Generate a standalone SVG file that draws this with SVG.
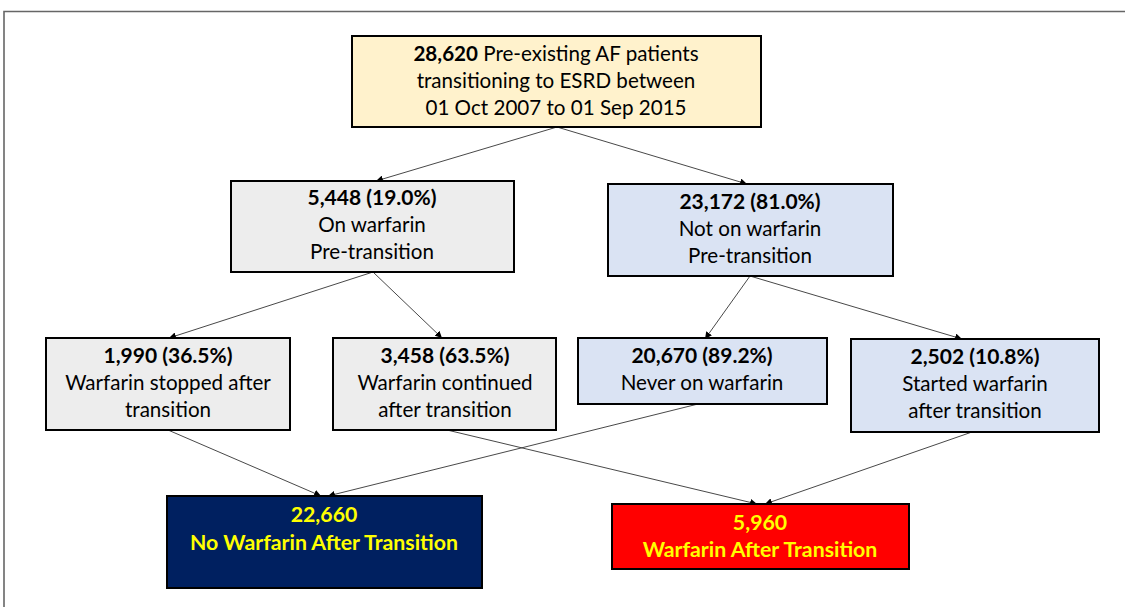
<svg xmlns="http://www.w3.org/2000/svg" width="1125" height="607" viewBox="0 0 1125 607">
<defs>
<marker id="ah" viewBox="0 0 10 10" refX="10" refY="5" markerWidth="7" markerHeight="7" markerUnits="userSpaceOnUse" orient="auto">
<path d="M0,0 L10,5 L0,10 z" fill="#000"/>
</marker>
<style>
.box{stroke:#000;stroke-width:2}
.t{font-family:Lato,"Liberation Sans",sans-serif;font-size:20.6px;fill:#000;text-anchor:middle}
.b{font-weight:bold;font-size:21px}
.y{fill:#FFFF00;font-weight:bold;font-size:21.3px}
.c{stroke:#333;stroke-width:0.9;fill:none;marker-end:url(#ah)}
</style>
</defs>
<rect width="1125" height="607" fill="#fff"/>
<path d="M4,607 L4,11.5 L1125,11.5" fill="none" stroke="#666" stroke-width="1.6"/>

<g id="connectors">
<line class="c" x1="557" y1="127" x2="376" y2="181"/>
<line class="c" x1="557" y1="127" x2="747" y2="184"/>
<line class="c" x1="373" y1="272" x2="169" y2="338"/>
<line class="c" x1="373" y1="272" x2="442" y2="338"/>
<line class="c" x1="750" y1="276" x2="705" y2="339"/>
<line class="c" x1="750" y1="276" x2="962" y2="339"/>
<line class="c" x1="168" y1="430" x2="321" y2="496"/>
<line class="c" x1="698" y1="404" x2="328" y2="496"/>
<line class="c" x1="447" y1="430" x2="757" y2="504"/>
<line class="c" x1="972" y1="432" x2="765" y2="504"/>
</g>

<g id="n-total">
<rect class="box" x="352" y="36" width="409" height="91" fill="#FFF2CC"/>
<text class="t" x="556" y="61"><tspan font-weight="bold">28,620</tspan> Pre-existing AF patients</text>
<text class="t" x="556" y="88">transitioning to ESRD between</text>
<text class="t" x="556" y="115">01 Oct 2007 to 01 Sep 2015</text>
</g>

<g id="n-on">
<rect class="box" x="231" y="181" width="283" height="91" fill="#EDEDED"/>
<text class="t b" x="372" y="205">5,448 (19.0%)</text>
<text class="t" x="372" y="232">On warfarin</text>
<text class="t" x="372" y="259">Pre-transition</text>
</g>

<g id="n-noton">
<rect class="box" x="608" y="184" width="285" height="92" fill="#DAE3F3"/>
<text class="t b" x="750" y="209">23,172 (81.0%)</text>
<text class="t" x="750" y="236">Not on warfarin</text>
<text class="t" x="750" y="263">Pre-transition</text>
</g>

<g id="n-stopped">
<rect class="box" x="46" y="338" width="244" height="92" fill="#EDEDED"/>
<text class="t b" x="168" y="363">1,990 (36.5%)</text>
<text class="t" x="168" y="390">Warfarin stopped after</text>
<text class="t" x="168" y="417">transition</text>
</g>

<g id="n-continued">
<rect class="box" x="333" y="338" width="223" height="92" fill="#EDEDED"/>
<text class="t b" x="445" y="363">3,458 (63.5%)</text>
<text class="t" x="445" y="390">Warfarin continued</text>
<text class="t" x="445" y="417">after transition</text>
</g>

<g id="n-never">
<rect class="box" x="578" y="338" width="249" height="66" fill="#DAE3F3"/>
<text class="t b" x="702" y="363">20,670 (89.2%)</text>
<text class="t" x="702" y="390">Never on warfarin</text>
</g>

<g id="n-started">
<rect class="box" x="851" y="339" width="248" height="93" fill="#DAE3F3"/>
<text class="t b" x="975" y="364">2,502 (10.8%)</text>
<text class="t" x="975" y="391">Started warfarin</text>
<text class="t" x="975" y="418">after transition</text>
</g>

<g id="n-nowarf">
<rect class="box" x="167" y="496" width="315" height="92" fill="#002060"/>
<text class="t y" x="324" y="522">22,660</text>
<text class="t y" x="324" y="550">No Warfarin After Transition</text>
</g>

<g id="n-warf">
<rect class="box" x="612" y="504" width="297" height="65" fill="#FF0000"/>
<text class="t y" x="760" y="530">5,960</text>
<text class="t y" x="760" y="557">Warfarin After Transition</text>
</g>
</svg>
